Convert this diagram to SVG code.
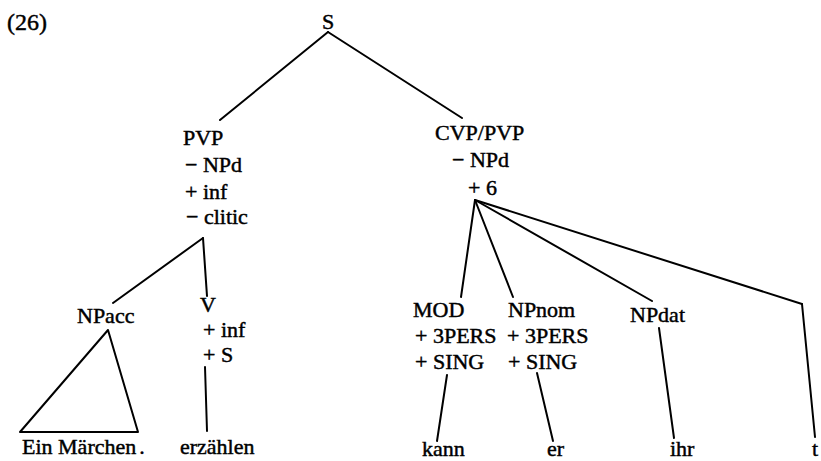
<svg xmlns="http://www.w3.org/2000/svg" width="821" height="461" viewBox="0 0 821 461">
<style>
text{font-family:"Liberation Serif","DejaVu Serif",serif;font-size:22px;fill:#000;stroke:#000;stroke-width:0.45px}
.big{font-size:24px}
.e line,.e polygon{stroke:#000;stroke-width:2;fill:none;stroke-linecap:round;stroke-linejoin:round}
</style>
<rect width="821" height="461" fill="#fff"/>
<g id="label"><text class="big" x="7" y="30">(26)</text></g>
<g id="S"><text x="328" y="29" text-anchor="middle">S</text></g>
<g id="PVP">
<text x="183" y="145">PVP</text>
<text x="185" y="172">− NPd</text>
<text x="185" y="199">+ inf</text>
<text x="186" y="224">− clitic</text>
</g>
<g id="CVP">
<text x="435" y="140">CVP/PVP</text>
<text x="452" y="167">− NPd</text>
<text x="468" y="195">+ 6</text>
</g>
<g id="NPacc"><text x="77" y="323">NPacc</text></g>
<g id="V">
<text x="200" y="312">V</text>
<text x="203" y="337">+ inf</text>
<text x="203" y="362">+ S</text>
</g>
<g id="MOD">
<text x="413" y="317">MOD</text>
<text x="415" y="343">+ 3PERS</text>
<text x="415" y="369">+ SING</text>
</g>
<g id="NPnom">
<text x="508" y="317">NPnom</text>
<text x="507" y="343">+ 3PERS</text>
<text x="508" y="369">+ SING</text>
</g>
<g id="NPdat"><text x="630" y="322">NPdat</text></g>
<g id="ein"><text x="22" y="454">Ein Märchen<tspan dx="3">.</tspan></text></g>
<g id="erzaehlen"><text x="180" y="454">erzählen</text></g>
<g id="kann"><text x="422" y="456">kann</text></g>
<g id="er"><text x="547" y="456">er</text></g>
<g id="ihr"><text x="670" y="456">ihr</text></g>
<g id="t"><text x="812" y="456">t</text></g>
<g id="connectors" class="e">
<line x1="328" y1="32" x2="220" y2="120"/>
<line x1="328" y1="32" x2="462" y2="118"/>
<line x1="203" y1="238" x2="113" y2="303"/>
<line x1="203" y1="238" x2="207" y2="296"/>
<polygon points="108,330 20,432 138,432"/>
<line x1="205" y1="367" x2="207" y2="431"/>
<line x1="475" y1="200" x2="461" y2="297"/>
<line x1="475" y1="200" x2="513" y2="297"/>
<line x1="475" y1="200" x2="652" y2="301"/>
<line x1="475" y1="200" x2="802" y2="304"/>
<line x1="802" y1="304" x2="815" y2="437"/>
<line x1="447" y1="375" x2="437" y2="441"/>
<line x1="537" y1="373" x2="553" y2="441"/>
<line x1="659" y1="328" x2="674" y2="438"/>
</g>
</svg>
